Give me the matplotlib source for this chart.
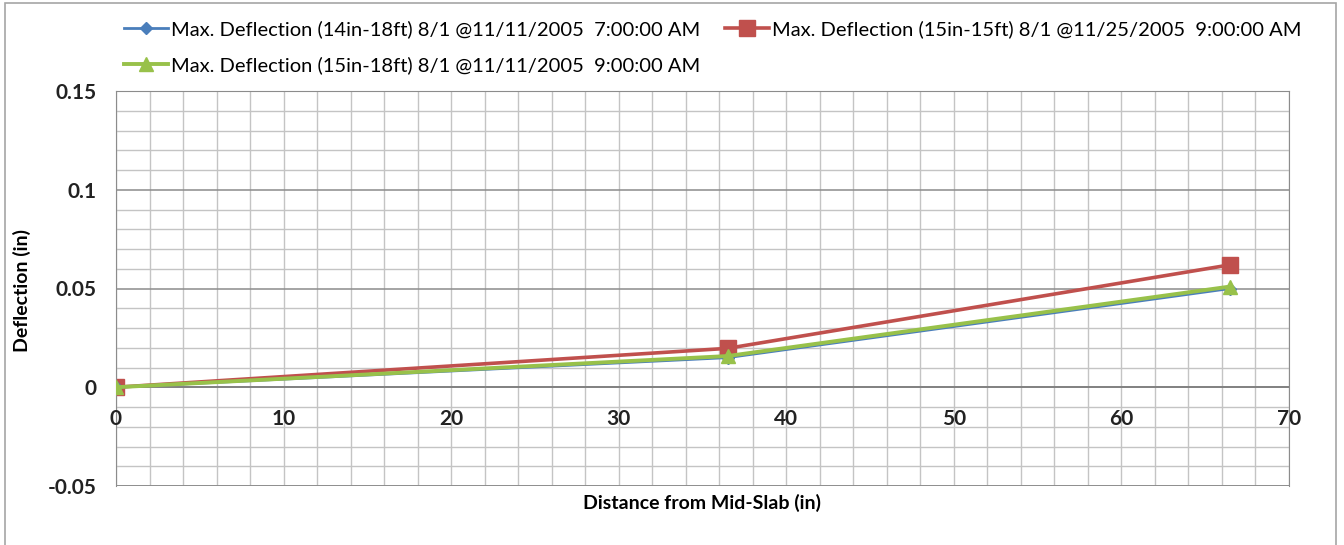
import matplotlib
matplotlib.use("Agg")
import matplotlib.pyplot as plt
from matplotlib.patches import Rectangle
from matplotlib.ticker import MultipleLocator

plt.rcParams['font.family'] = ['Lato', 'DejaVu Sans']

# Distance from mid-slab (in)
distance = [0, 36.5, 66.5]

# Maximum deflection (in) for each slab configuration
defl_14in_18ft = [0.0, 0.015, 0.050]
defl_15in_15ft = [0.0, 0.0197, 0.062]
defl_15in_18ft = [0.0, 0.0158, 0.051]

labels = [
    "Max. Deflection (14in-18ft) 8/1 @11/11/2005  7:00:00 AM",
    "Max. Deflection (15in-15ft) 8/1 @11/25/2005  9:00:00 AM",
    "Max. Deflection (15in-18ft) 8/1 @11/11/2005  9:00:00 AM",
]

x_ticks = [0, 10, 20, 30, 40, 50, 60, 70]
y_ticks = [-0.05, 0, 0.05, 0.1, 0.15]
y_tick_labels = ["-0.05", "0", "0.05", "0.1", "0.15"]

fig = plt.figure(figsize=(13.44, 5.45), dpi=100)
W, H = 1344, 545

# outer chart border
fig.patches.append(Rectangle((5 / W, -0.05), (1336 - 5) / W, 1.05 - 3 / H,
                             transform=fig.transFigure, fill=False,
                             edgecolor="#a6a6a6", linewidth=1.2))

ax = fig.add_axes([116 / W, 1 - 486 / H, (1289 - 116) / W, (486 - 91) / H])

ax.set_xlim(0, 70)
ax.set_ylim(-0.05, 0.15)
ax.xaxis.set_major_locator(MultipleLocator(10))
ax.xaxis.set_minor_locator(MultipleLocator(2))
ax.yaxis.set_major_locator(MultipleLocator(0.05))
ax.yaxis.set_minor_locator(MultipleLocator(0.01))

ax.grid(which="minor", color="#c4c4c4", linewidth=1.0)
ax.grid(which="major", color="#8c8c8c", linewidth=1.1)
ax.set_axisbelow(True)

for side in ["top", "right", "left"]:
    ax.spines[side].set_color("#8c8c8c")
ax.spines["bottom"].set_visible(False)
ax.axhline(-0.05, color="#8c8c8c", linewidth=1.2, zorder=1)
ax.axhline(0, color="#808080", linewidth=1.3, zorder=1)

ax.plot(distance, defl_14in_18ft, color="#4a7ebb", linewidth=2.0, marker="D",
        markersize=6, label=labels[0], zorder=3)
ax.plot(distance, defl_15in_18ft, color="#98c14a", linewidth=2.8, marker="^",
        markersize=10, label=labels[2], zorder=4)
ax.plot(distance, defl_15in_15ft, color="#c0504d", linewidth=2.6, marker="s",
        markersize=11, label=labels[1], zorder=2)

ax.set_yticks(y_ticks)
ax.set_yticklabels(y_tick_labels, fontsize=15, fontweight="bold", color="#222222")
ax.tick_params(axis="y", which="both", length=0, pad=14)
ax.tick_params(axis="x", which="both", length=0)
ax.set_xticks([])

# x tick labels sit just under the zero line
for xv in x_ticks:
    ax.annotate(str(xv), xy=(xv, 0), xytext=(0, -23), textcoords="offset points",
                ha="center", va="center", fontsize=15, fontweight="bold",
                color="#222222", annotation_clip=False)

fig.text(22 / W, 1 - 290 / H, "Deflection (in)", rotation=90, ha="center",
         va="center", fontsize=14, fontweight="bold")
fig.text(702 / W, 1 - 503 / H, "Distance from Mid-Slab (in)", ha="center",
         va="center", fontsize=14, fontweight="bold")

leg = fig.legend(loc="upper left", bbox_to_anchor=(116 / W, 1 - 12 / H), ncol=2,
                 frameon=False, fontsize=14.5, handlelength=2.2, handletextpad=0.15,
                 columnspacing=1.2, labelspacing=0.9, borderaxespad=0)

fig.savefig("out.png", dpi=100)
